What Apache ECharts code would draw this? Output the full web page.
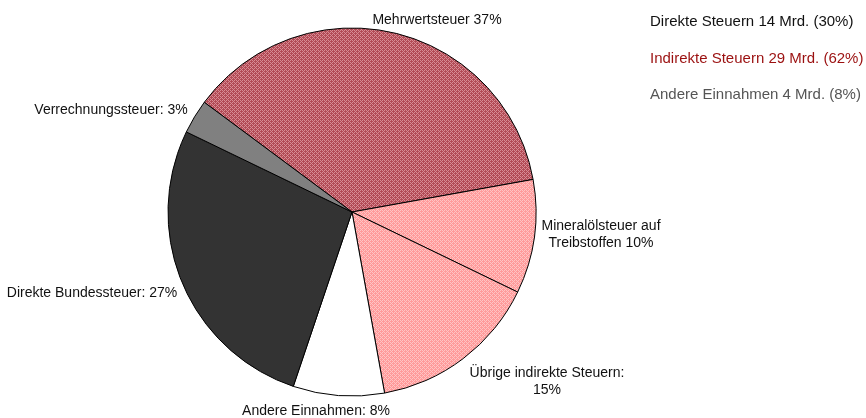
<!DOCTYPE html>
<html>
<head>
<meta charset="utf-8">
<script src="https://cdn.jsdelivr.net/npm/echarts@6/dist/echarts.min.js"></script>
<style>
html, body { margin: 0; padding: 0; background: #fff; }
#main { width: 866px; height: 418px; }
</style>
</head>
<body>
<div id="main"></div>
<script>
var names = ['Mehrwertsteuer', 'Mineralölsteuer auf\nTreibstoffen', 'Übrige indirekte Steuern:', 'Andere Einnahmen:', 'Direkte Bundessteuer:', 'Verrechnungssteuer:'];
var values = [37, 10, 15, 8, 27, 3];
var seps = [' ', ' ', '\n', ' ', ' ', ' '];
var legendTexts = ['Direkte Steuern 14 Mrd. (30%)', 'Indirekte Steuern 29 Mrd. (62%)', 'Andere Einnahmen 4 Mrd. (8%)'];
var legendColors = ['#111', '#9b1010', '#555'];

// label positions (centre of text)
var labelPos = [[437, 20], [601, 235], [547, 382], [316, 411], [92, 293], [111, 110]];

// small checker texture like the original hatch fill
function makePattern(base, light) {
    var c = document.createElement('canvas');
    c.width = 4;
    c.height = 4;
    var ctx = c.getContext('2d');
    ctx.fillStyle = base;
    ctx.fillRect(0, 0, 4, 4);
    ctx.fillStyle = light;
    ctx.fillRect(0, 0, 1, 1);
    ctx.fillRect(1, 1, 1, 1);
    ctx.fillRect(2, 2, 1, 1);
    ctx.fillRect(3, 3, 1, 1);
    ctx.fillRect(2, 0, 1, 1);
    ctx.fillRect(0, 2, 1, 1);
    return { image: c, repeat: 'repeat' };
}

var darkPink = makePattern('#b24a55', '#d88c94');
var lightPink = makePattern('#ff9a9a', '#ffc4c4');
var colors = [darkPink, lightPink, lightPink, '#ffffff', '#333333', '#808080'];

var data = [];
for (var i = 0; i < values.length; i++) {
    data.push({
        name: names[i],
        value: values[i],
        label: { formatter: names[i] + seps[i] + values[i] + '%' },
        itemStyle: { color: colors[i] }
    });
}

var graphics = [];
for (var j = 0; j < legendTexts.length; j++) {
    graphics.push({
        type: 'text',
        x: 650,
        y: 22 + j * 36.5,
        style: {
            text: legendTexts[j],
            fill: legendColors[j],
            verticalAlign: 'middle',
            font: '15px "Liberation Sans", Arial, sans-serif'
        }
    });
}

var myChart = echarts.init(document.getElementById('main'));
var option = {
    animation: false,
    graphic: graphics,
    series: [{
        type: 'pie',
        center: [352, 212],
        radius: 184,
        startAngle: 143.4,
        clockwise: true,
        data: data,
        itemStyle: {
            borderColor: '#000',
            borderWidth: 1
        },
        label: {
            show: true,
            position: 'outside',
            color: '#111',
            fontSize: 14,
            fontFamily: '"Liberation Sans", Arial, sans-serif',
            lineHeight: 17,
            align: 'center',
            overflow: 'none'
        },
        labelLine: { show: false },
        labelLayout: function (params) {
            var p = labelPos[params.dataIndex];
            return { x: p[0], y: p[1], align: 'center', verticalAlign: 'middle' };
        },
        emphasis: { disabled: true }
    }]
};
myChart.setOption(option);
window.addEventListener('resize', function () {
    myChart.resize();
});
</script>
</body>
</html>
